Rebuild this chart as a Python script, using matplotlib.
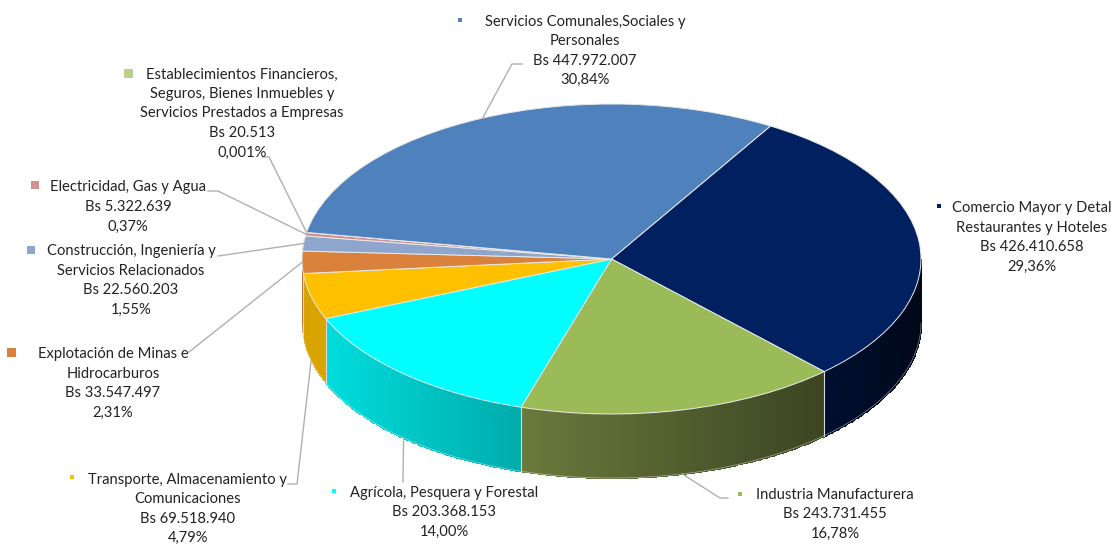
import numpy as np
import matplotlib
matplotlib.use("Agg")
import matplotlib.pyplot as plt
from matplotlib.colors import LinearSegmentedColormap

plt.rcParams['font.family'] = ['Lato', 'DejaVu Sans']

W, H = 1114, 544
CX, CY, RX, RY, DEPTH = 611.5, 259.0, 309.5, 155.0, 64.0
START_CW = 30.9  # clockwise from 12 o'clock

sectors = ["Comercio Mayor y Detal", "Industria Manufacturera", "Agrícola, Pesquera y Forestal",
           "Transporte, Almacenamiento y", "Explotación de Minas e", "Construcción, Ingeniería y",
           "Electricidad, Gas y Agua", "Establecimientos Financieros", "Servicios Comunales"]
values = [426410658, 243731455, 203368153, 69518940, 33547497, 22560203, 5322639, 20513, 447972007]
colors = ["#002060", "#9BBB59", "#00FFFF", "#FFC000", "#DA813B", "#8EA5CE", "#D19392", "#B9D08F", "#4F81BD"]
wall_left = ["#000F30", "#6A7A3C", "#00DCDC", "#D9A300", "#B96C30", "#7A8DB0", "#B07C7C", "#9DB17A", "#436EA1"]
wall_right = ["#00081A", "#3B4522", "#00ABAB", "#D9A300", "#B96C30", "#7A8DB0", "#B07C7C", "#9DB17A", "#436EA1"]

labels = [
    "Comercio Mayor y Detal\nRestaurantes y Hoteles\nBs 426.410.658\n29,36%",
    "Industria Manufacturera\nBs 243.731.455\n16,78%",
    "Agrícola, Pesquera y Forestal\nBs 203.368.153\n14,00%",
    "Transporte, Almacenamiento y\nComunicaciones\nBs 69.518.940\n4,79%",
    "Explotación de Minas e\nHidrocarburos\nBs 33.547.497\n2,31%",
    "Construcción, Ingeniería y\nServicios Relacionados\nBs 22.560.203\n1,55%",
    "Electricidad, Gas y Agua\nBs 5.322.639\n0,37%",
    "Establecimientos Financieros,\nSeguros, Bienes Inmuebles y\nServicios Prestados a Empresas\nBs 20.513\n0,001%",
    "Servicios Comunales,Sociales y\nPersonales\nBs 447.972.007\n30,84%",
]
label_xy = [(1032, 237.5), (835, 514.5), (444, 512.5), (188, 509), (113, 383.5),
            (131, 280.5), (128, 207), (242, 113.5), (585, 51)]
marker_xy = [(939, 206), (740, 494), (334, 491), (72, 477), (11, 352),
             (31, 250), (35, 185), (128, 73), (460, 20)]
marker_px = [5, 5, 5, 5, 9, 8, 8, 9, 5]
# intermediate leader points (elbows); None = no leader
elbows = [None, [(728, 498), (720, 498)], [(403, 482)], [(288, 484), (297, 484)],
          [(189, 352)], [(218, 256)], [(208, 191), (218, 191)], [(263, 157), (269, 157)],
          [(522, 64), (512, 64)]]
on_wall = [False, True, True, True, False, False, False, False, False]

fig = plt.figure(figsize=(W / 100, H / 100), dpi=100, facecolor='white')
ax = fig.add_axes([0, 0, 1, 1])

fractions = np.array(values) / np.sum(values)
edges = START_CW + 360 * np.concatenate([[0], np.cumsum(fractions)])

def ell(th):
    t = np.radians(th)
    return np.sin(t), np.cos(t)

# side walls (front half only)
for i in range(len(values)):
    a, b = max(edges[i], 90), min(edges[i + 1], 270)
    if b <= a:
        continue
    th = np.linspace(a, b, 120)
    x, y = ell(th)
    dy = DEPTH / RY
    X = np.vstack([x, x])
    Y = np.vstack([y, y - dy])
    shade = (x[:-1] + x[1:]) / 2
    shade = (shade - x.min()) / max(x.max() - x.min(), 1e-9)
    cmap = LinearSegmentedColormap.from_list('w', [wall_left[i], wall_right[i]])
    ax.pcolormesh(X, Y, shade[None, :], cmap=cmap, vmin=0, vmax=1, shading='flat',
                  edgecolors='face', linewidth=0.4, zorder=1)
    ax.plot(x, y - dy, color='white', lw=0.5, alpha=0.5, zorder=1.5)

# wall separators
for e in edges:
    e = (e - 360) if e > 360 else e
    if 90 < e < 270:
        x, y = ell(e)
        ax.plot([x, x], [y, y - DEPTH / RY], color='#D8D8D8', lw=0.8, zorder=1.6)

ax.pie(values, colors=colors, startangle=90 - START_CW, counterclock=False, radius=1,
       wedgeprops=dict(edgecolor='#E8E8E8', linewidth=0.7, zorder=2))
ax.set_aspect('auto')
ax.set_xlim((0 - CX) / RX, (W - CX) / RX)
ax.set_ylim((CY - H) / RY, CY / RY)
ax.axis('off')

# overlay in pixel coordinates for the labels
ov = fig.add_axes([0, 0, 1, 1], facecolor='none')
ov.set_xlim(0, W)
ov.set_ylim(H, 0)
ov.axis('off')

for i in range(len(values)):
    ov.text(*label_xy[i], labels[i], ha='center', va='center', fontsize=10.6,
            linespacing=1.5, color='#222222')
    mx, my = marker_xy[i]
    ov.plot([mx], [my], marker='s', ms=marker_px[i] * 0.72, mew=0, color=colors[i])
    if elbows[i]:
        mid = (edges[i] + edges[i + 1]) / 2
        x, y = ell(mid)
        ax_x, ax_y = CX + RX * x, CY - RY * y + (DEPTH if on_wall[i] else 0)
        pts = elbows[i] + [(ax_x, ax_y)]
        ov.plot([p[0] for p in pts], [p[1] for p in pts], color='#B0B0B0', lw=1.0)

fig.savefig('out.png', dpi=100)
